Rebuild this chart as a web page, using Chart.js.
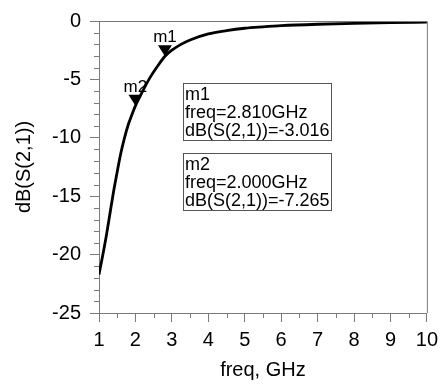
<!DOCTYPE html>
<html>
<head>
<meta charset="utf-8">
<script src="https://cdn.jsdelivr.net/npm/chart.js@4.4.1/dist/chart.umd.min.js"></script>
<style>
  body { margin: 0; background: #fff; }
  #wrap { width: 444px; height: 384px; }
</style>
</head>
<body>
<div id="wrap"><canvas id="graph1"></canvas></div>
<script>
// S21 curve
let freqs = [1, 1.1, 1.2, 1.3, 1.4, 1.5, 1.6, 1.7, 1.8, 1.9, 2, 2.2, 2.4, 2.6, 2.81, 3, 3.25, 3.5, 4, 4.5, 5, 5.5, 6, 7, 8, 9, 10];
let s21 = [-21.7, -20.1, -18.4, -16.5, -14.6, -12.9, -11.3, -10.0, -8.9, -8.05, -7.27, -6.0, -4.85, -3.9, -3.02, -2.5, -2.0, -1.62, -1.1, -0.82, -0.62, -0.5, -0.4, -0.28, -0.2, -0.14, -0.1];

// markers
let markerNames = ['m1', 'm2'];
let markerFreq = [2.810, 2.000];
let markerVal = [-3.016, -7.265];

let fontName = '"Liberation Sans", Arial, sans-serif';
let gray = '#7a7a7a';

const extras = {
    id: 'extras',
    afterDraw(chart) {
        const c = chart.ctx;
        const a = chart.chartArea;
        const xs = chart.scales.x;
        const ys = chart.scales.y;
        c.save();
        c.strokeStyle = gray;
        c.lineWidth = 1;
        // top and right frame
        c.beginPath();
        c.moveTo(a.left, a.top + 0.5);
        c.lineTo(a.right + 0.5, a.top + 0.5);
        c.lineTo(a.right + 0.5, a.bottom);
        c.stroke();
        // minor ticks
        c.beginPath();
        for (let v = -24; v < 0; v++) {
            if (v % 5 == 0) continue;
            let y = Math.round(ys.getPixelForValue(v)) + 0.5;
            c.moveTo(a.left - 5, y);
            c.lineTo(a.left, y);
        }
        for (let f = 1.5; f < 10; f += 1) {
            let x = Math.round(xs.getPixelForValue(f)) + 0.5;
            c.moveTo(x, a.bottom);
            c.lineTo(x, a.bottom + 5);
        }
        c.stroke();

        // marker triangles + names
        c.fillStyle = '#000';
        c.font = '17px ' + fontName;
        c.textAlign = 'center';
        c.textBaseline = 'alphabetic';
        markerNames.forEach((name, i) => {
            let px = xs.getPixelForValue(markerFreq[i]);
            let py = ys.getPixelForValue(markerVal[i]);
            c.beginPath();
            c.moveTo(px, py);
            c.lineTo(px - 7, py - 11);
            c.lineTo(px + 7, py - 11);
            c.closePath();
            c.fill();
            c.fillText(name, px, py - 14);
        });

        // readout boxes
        c.textAlign = 'left';
        c.font = '18px ' + fontName;
        let boxTops = [83, 153];
        markerNames.forEach((name, i) => {
            let top = boxTops[i];
            c.strokeStyle = '#555';
            c.strokeRect(183.5, top + 0.5, 148, 57);
            let lines = [name, 'freq=' + markerFreq[i].toFixed(3) + 'GHz', 'dB(S(2,1))=' + markerVal[i].toFixed(3)];
            lines.forEach((t, j) => {
                c.fillText(t, 185, top + 17 + j * 18);
            });
        });
        c.restore();
    }
};

const ctx = document.getElementById('graph1').getContext('2d');
let myChart = new Chart(ctx, {
    type: 'line',
    data: {
        datasets: [{
            data: freqs.map((f, i) => ({ x: f, y: s21[i] })),
            borderColor: '#000',
            borderWidth: 2.8,
            pointRadius: 0,
            cubicInterpolationMode: 'monotone',
            fill: false
        }]
    },
    options: {
        responsive: true,
        maintainAspectRatio: false,
        animation: false,
        layout: { padding: { top: 20, right: 13, left: 0, bottom: 0 } },
        plugins: { legend: { display: false }, tooltip: { enabled: false } },
        scales: {
            x: {
                type: 'linear',
                min: 1, max: 10,
                afterFit: s => { s.height = 71; },
                ticks: { stepSize: 1, color: '#000', padding: 6, maxRotation: 0, font: { family: fontName, size: 20 } },
                grid: { drawOnChartArea: false, tickLength: 9, color: gray },
                border: { color: gray },
                title: { display: true, text: 'freq, GHz', color: '#000', padding: { top: 0, bottom: 2 }, font: { family: fontName, size: 20 } }
            },
            y: {
                min: -25, max: 0,
                afterFit: s => { s.width = 99; },
                ticks: { stepSize: 5, color: '#000', padding: 9, font: { family: fontName, size: 20 } },
                grid: { drawOnChartArea: false, tickLength: 9, color: gray },
                border: { color: gray },
                title: { display: true, text: 'dB(S(2,1))', color: '#000', padding: { top: 12, bottom: 0 }, font: { family: fontName, size: 20 } }
            }
        }
    },
    plugins: [extras]
});
</script>
</body>
</html>
